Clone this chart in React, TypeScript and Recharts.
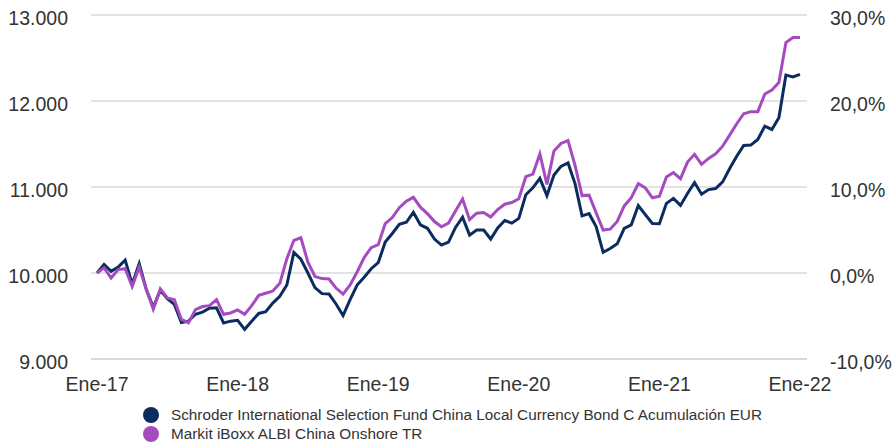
import React from 'react';
import { LineChart, Line, XAxis, YAxis, CartesianGrid, Legend } from 'recharts';

const dates = [
  2017.00, 2017.05, 2017.10, 2017.15, 2017.20, 2017.25, 2017.30, 2017.35, 2017.40, 2017.45,
  2017.50, 2017.55, 2017.60, 2017.65, 2017.70, 2017.75, 2017.80, 2017.85, 2017.90, 2017.95,
  2018.00, 2018.05, 2018.10, 2018.15, 2018.20, 2018.25, 2018.30, 2018.35, 2018.40, 2018.45,
  2018.50, 2018.55, 2018.60, 2018.65, 2018.70, 2018.75, 2018.80, 2018.85, 2018.90, 2018.95,
  2019.00, 2019.05, 2019.10, 2019.15, 2019.20, 2019.25, 2019.30, 2019.35, 2019.40, 2019.45,
  2019.50, 2019.55, 2019.60, 2019.65, 2019.70, 2019.75, 2019.80, 2019.85, 2019.90, 2019.95,
  2020.00, 2020.05, 2020.10, 2020.15, 2020.20, 2020.25, 2020.30, 2020.35, 2020.40, 2020.45,
  2020.50, 2020.55, 2020.60, 2020.65, 2020.70, 2020.75, 2020.80, 2020.85, 2020.90, 2020.95,
  2021.00, 2021.05, 2021.10, 2021.15, 2021.20, 2021.25, 2021.30, 2021.35, 2021.40, 2021.45,
  2021.50, 2021.55, 2021.60, 2021.65, 2021.70, 2021.75, 2021.80, 2021.85, 2021.90, 2021.95,
  2022.00,
];

const fundValues = [
  10000, 10100, 10020, 10070, 10150, 9870, 10110, 9810, 9600, 9800,
  9700, 9635, 9425, 9440, 9520, 9545, 9590, 9595, 9420, 9440,
  9450, 9345, 9440, 9530, 9550, 9650, 9728, 9860, 10240, 10160,
  10000, 9830, 9760, 9755, 9640, 9505, 9690, 9860, 9950, 10050,
  10120, 10360, 10460, 10565, 10590, 10705, 10560, 10520, 10395, 10325,
  10360, 10530, 10650, 10440, 10500, 10500, 10395, 10525, 10610, 10580,
  10635, 10910, 10990, 11100, 10900, 11140, 11240, 11280, 11040, 10665,
  10690, 10540, 10240, 10285, 10340, 10520, 10560, 10785, 10679, 10576,
  10574, 10810, 10868, 10786, 10925, 11052, 10916, 10970, 10982, 11060,
  11215, 11358, 11483, 11487, 11553, 11708, 11669, 11806, 12302, 12279,
  12310,
];

const indexValues = [
  10000, 10060, 9942, 10040, 10050, 9844, 10070, 9810, 9580, 9815,
  9709, 9690, 9460, 9420, 9575, 9610, 9620, 9690, 9520, 9535,
  9570, 9520, 9620, 9740, 9765, 9790, 9880, 10165, 10380, 10410,
  10125, 9960, 9935, 9930, 9825, 9755, 9860, 10012, 10180, 10295,
  10330, 10575, 10645, 10760, 10835, 10880, 10765, 10690, 10598, 10537,
  10580, 10720, 10860, 10620, 10695, 10703, 10650, 10738, 10800, 10820,
  10864, 11120, 11150, 11385, 11030, 11420, 11506, 11540, 11252, 10900,
  10905, 10700, 10500, 10510, 10600, 10780, 10875, 11040, 10990, 10874,
  10893, 11116, 11168, 11097, 11290, 11380, 11263, 11332, 11386, 11475,
  11603, 11736, 11852, 11876, 11876, 12082, 12127, 12214, 12680, 12738,
  12738,
];

const xTicks = [2017, 2018, 2019, 2020, 2021, 2022];
const xTickLabels = ['Ene-17', 'Ene-18', 'Ene-19', 'Ene-20', 'Ene-21', 'Ene-22'];
const leftTicks = [9000, 10000, 11000, 12000, 13000];
const rightTicks = [-10, 0, 10, 20, 30];
const seriesNames = [
  'Schroder International Selection Fund China Local Currency Bond C Acumulación EUR',
  'Markit iBoxx ALBI China Onshore TR',
];
const seriesColors = ['#0b2c5e', '#a54bc0'];

const data = dates.map((t, i) => ({ t, fund: fundValues[i], index: indexValues[i] }));

const FONT = '"Liberation Sans", Arial, sans-serif';
const TEXT_COLOR = '#333333';

const fmtLeft = (v: number) => {
  const s = String(Math.round(v));
  return s.replace(/\B(?=(\d{3})+(?!\d))/g, '.');
};
const fmtRight = (v: number) => `${v.toFixed(1).replace('.', ',')}%`;
const fmtX = (v: number) => {
  const i = xTicks.indexOf(Math.round(v));
  return i >= 0 ? xTickLabels[i] : '';
};

const LegendContent = () => (
  <div style={{ fontFamily: FONT, fontSize: 15.3, color: TEXT_COLOR }}>
    {seriesNames.map((name, i) => (
      <div key={name} style={{ display: 'flex', alignItems: 'center', height: 19, lineHeight: '19px', whiteSpace: 'nowrap' }}>
        <span
          style={{
            display: 'inline-block',
            width: 16,
            height: 16,
            borderRadius: '50%',
            background: seriesColors[i],
            marginRight: 12,
          }}
        />
        <span>{name}</span>
      </div>
    ))}
  </div>
);

export default function App() {
  return (
    <div style={{ width: 893, height: 444, background: '#ffffff' }}>
      <style>{'body{margin:0;overflow:hidden;}'}</style>
      <LineChart
        width={893}
        height={444}
        data={data}
        margin={{ top: 15, right: 0, left: 0, bottom: 0 }}
        style={{ fontFamily: FONT }}
      >
        <CartesianGrid vertical={false} stroke="#e3e3e3" strokeWidth={2} yAxisId="left" />
        <XAxis
          dataKey="t"
          type="number"
          domain={[2016.957, 2022.05]}
          ticks={xTicks}
          tickFormatter={fmtX}
          allowDataOverflow
          height={45}
          tickLine={false}
          tickSize={0}
          tickMargin={18}
          axisLine={{ stroke: '#d9d9d9', strokeWidth: 2 }}
          tick={{ fill: TEXT_COLOR, fontSize: 19.5, fontFamily: FONT }}
          interval={0}
        />
        <YAxis
          yAxisId="left"
          orientation="left"
          type="number"
          domain={[9000, 13000]}
          ticks={leftTicks}
          tickFormatter={fmtLeft}
          allowDataOverflow
          width={91}
          axisLine={false}
          tickLine={false}
          tickSize={0}
          tickMargin={23}
          tick={{ fill: TEXT_COLOR, fontSize: 19.5, fontFamily: FONT, dy: 3 }}
          interval={0}
        />
        <YAxis
          yAxisId="right"
          orientation="right"
          type="number"
          domain={[-10, 30]}
          ticks={rightTicks}
          tickFormatter={fmtRight}
          allowDataOverflow
          width={86}
          axisLine={false}
          tickLine={false}
          tickSize={0}
          tickMargin={23}
          tick={{ fill: TEXT_COLOR, fontSize: 19.5, fontFamily: FONT, dy: 3, textAnchor: 'start' }}
          interval={0}
        />
        <Legend
          layout="vertical"
          align="center"
          verticalAlign="bottom"
          content={LegendContent}
          wrapperStyle={{ left: 143, top: 405, width: 740, height: 40 }}
        />
        <Line
          yAxisId="left"
          type="linear"
          dataKey="fund"
          name={seriesNames[0]}
          stroke={seriesColors[0]}
          strokeWidth={3}
          dot={false}
          activeDot={false}
          isAnimationActive={false}
        />
        <Line
          yAxisId="left"
          type="linear"
          dataKey="index"
          name={seriesNames[1]}
          stroke={seriesColors[1]}
          strokeWidth={3}
          dot={false}
          activeDot={false}
          isAnimationActive={false}
        />
      </LineChart>
    </div>
  );
}
